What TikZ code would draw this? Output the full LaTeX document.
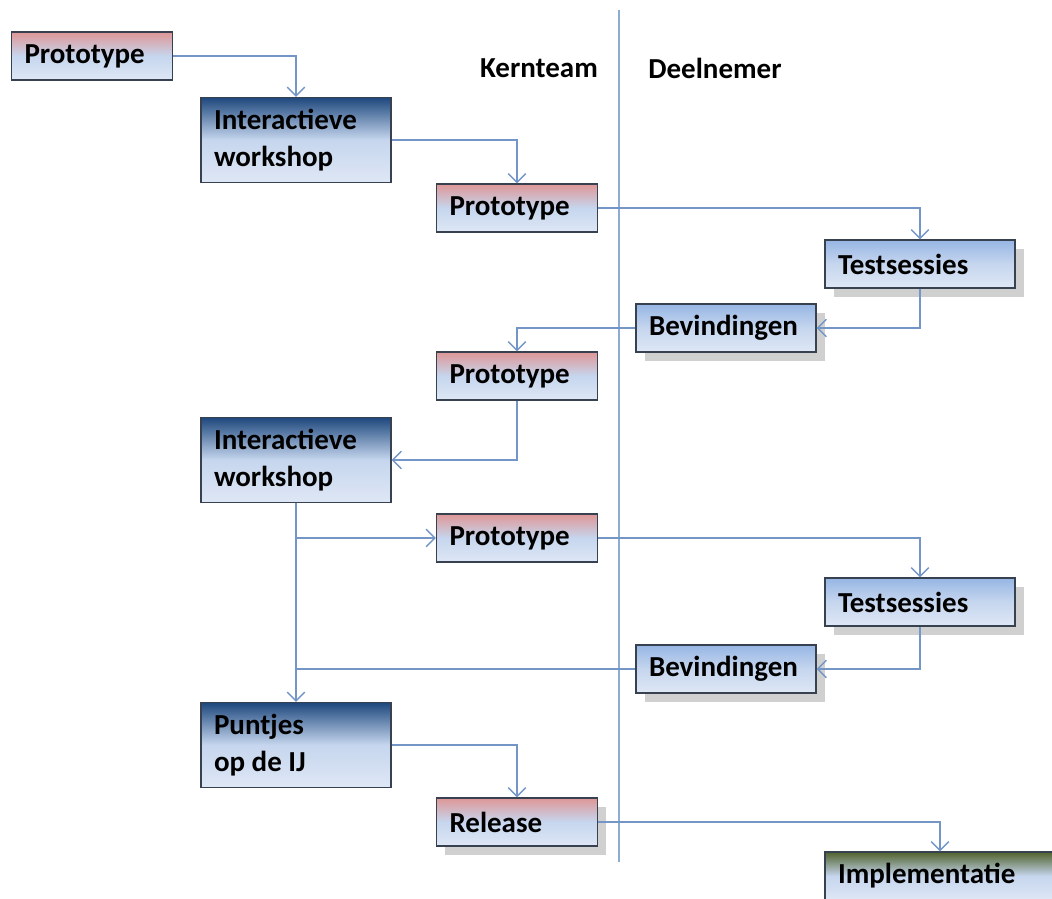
\documentclass[tikz,border=0pt]{standalone}
\usepackage{fontspec}
\setmainfont{Carlito}
\usetikzlibrary{arrows.meta,shadows}

\definecolor{linkblue}{RGB}{115,150,198}
\definecolor{laneblue}{RGB}{140,172,210}
\definecolor{boxedge}{RGB}{55,65,80}
\definecolor{boxlow}{RGB}{222,231,245}
\definecolor{boxmid}{RGB}{198,214,238}
\definecolor{protored}{RGB}{222,150,150}
\definecolor{workblue}{RGB}{30,72,125}
\definecolor{testblue}{RGB}{150,182,228}
\definecolor{implgreen}{RGB}{80,98,45}

\tikzset{
  box/.style={rectangle, draw=boxedge, line width=0.7pt, inner xsep=0.26cm, inner ysep=0pt,
    align=flush left, font=\bfseries\fontsize{16.5}{21}\selectfont, minimum height=0.96cm},
  softshadow/.style={drop shadow={shadow xshift=5pt, shadow yshift=-5pt, opacity=0.3, fill=black!60}},
  protobox/.style={box, text width=2.70cm, shading=axis, top color=protored, bottom color=boxlow, middle color=boxmid},
  workbox/.style={box, text width=3.28cm, minimum height=1.70cm, shading=axis, top color=workblue, bottom color=boxlow, middle color=boxmid},
  testbox/.style={box, text width=#1, shading=axis, top color=testblue, bottom color=boxlow, middle color=boxmid, softshadow},
  implbox/.style={box, text width=4.08cm, shading=axis, top color=implgreen, bottom color=boxlow, middle color=boxmid},
  head/.style={font=\bfseries\fontsize{16.5}{21}\selectfont},
  link/.style={draw=linkblue, line width=0.8pt, -{Straight Barb[length=5pt,width=10pt]}},
  lane/.style={draw=laneblue, line width=1.1pt}
}

\begin{document}
\begin{tikzpicture}[x=0.02cm, y=-0.02cm]
    \clip (0,0) rectangle (1052,899);
    \fill[white] (0,0) rectangle (1052,899);

    % swimlane
    \coordinate (lanetop) at (619,10);
    \coordinate (lanebot) at (619,862);
    \draw[lane] (lanetop) -- (lanebot);
    \node[head] (kern) at (539,68) {Kernteam};
    \node[head] (deel) at (715,68) {Deelnemer};

    % round 1
    \node[protobox] (proto1) at (92,56) {Prototype};
    \node[workbox] (work1) at (296,140) {Interactieve\\workshop};
    \node[protobox] (proto2) at (517,208) {Prototype};
    \node[testbox=3.28cm] (test1) at (920,264) {Testsessies};
    \node[testbox=3.08cm] (bev1) at (726,328) {Bevindingen};
    \node[protobox] (proto3) at (517,376) {Prototype};
    \node[workbox] (work2) at (296,460) {Interactieve\\workshop};

    % round 2
    \node[protobox] (proto4) at (517,538) {Prototype};
    \node[testbox=3.28cm] (test2) at (920,602) {Testsessies};
    \node[testbox=3.08cm] (bev2) at (726,669) {Bevindingen};
    \node[workbox] (punt) at (296,745) {Puntjes\\op de IJ};
    \node[protobox, softshadow] (rel) at (517,822) {Release};
    \node[implbox] (impl) at (940,876) {Implementatie};

    \draw[link] (proto1.east) -| (work1.north);
    \draw[link] (work1.east) -| (proto2.north);
    \draw[link] (proto2.east) -| (test1.north);
    \draw[link] (test1.south) |- (bev1.east);
    \draw[link] (bev1.west) -| (proto3.north);
    \draw[link] (proto3.south) |- (work2.east);
    \coordinate (split) at (work2.south |- proto4.west);
    \coordinate (merge) at (work2.south |- bev2.west);
    \draw[link] (split) -- (proto4.west);
    \draw[link] (proto4.east) -| (test2.north);
    \draw[link] (test2.south) |- (bev2.east);
    \draw[draw=linkblue, line width=0.8pt] (bev2.west) -- (merge);
    \draw[link] (work2.south) -- (punt.north);
    \draw[link] (punt.east) -| (rel.north);
    \draw[link] (rel.east) -| (impl.north);
\end{tikzpicture}
\end{document}
